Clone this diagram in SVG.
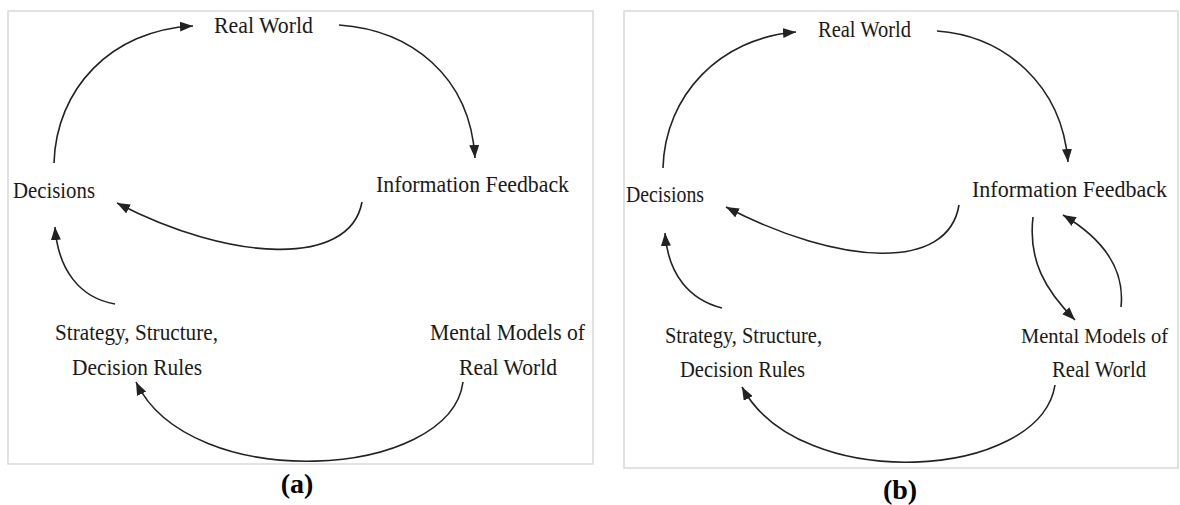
<svg xmlns="http://www.w3.org/2000/svg" width="1180" height="505" viewBox="0 0 1180 505">
<style>
.frame{fill:#fff;stroke:#d9d9d9;stroke-width:1.5}
.lbl{font-family:"Liberation Serif","Times New Roman",serif;font-size:23.5px;fill:#1a1a1a}
.sm{font-size:21px}
.cap{font-family:"Liberation Serif","Times New Roman",serif;font-size:28px;font-weight:bold;fill:#000;text-anchor:middle}
.c{fill:none;stroke:#222;stroke-width:1.6;marker-end:url(#ah)}
</style>
<defs>
<marker id="ah" viewBox="0 0 13 10" refX="13" refY="5" markerWidth="13" markerHeight="10" orient="auto" markerUnits="userSpaceOnUse">
<path d="M0,0 L13,5 L0,10 z" fill="#222"/>
</marker>
</defs>
<rect width="1180" height="505" fill="#fff"/>
<rect class="frame" x="8" y="11" width="585" height="453"/>
<rect class="frame" x="624" y="11" width="554" height="457"/>

<g id="a-real-world"><text class="lbl" x="214" y="33" textLength="99" lengthAdjust="spacingAndGlyphs">Real World</text></g>
<g id="a-decisions"><text class="lbl" x="13" y="198" textLength="82" lengthAdjust="spacingAndGlyphs">Decisions</text></g>
<g id="a-info-feedback"><text class="lbl" x="376" y="192" textLength="193" lengthAdjust="spacingAndGlyphs">Information Feedback</text></g>
<g id="a-strategy"><text class="lbl" x="55" y="340" textLength="163" lengthAdjust="spacingAndGlyphs">Strategy, Structure,</text><text class="lbl" x="72" y="375" textLength="130" lengthAdjust="spacingAndGlyphs">Decision Rules</text></g>
<g id="a-mental-models"><text class="lbl" x="430" y="340" textLength="155" lengthAdjust="spacingAndGlyphs">Mental Models of</text><text class="lbl" x="459" y="375" textLength="98" lengthAdjust="spacingAndGlyphs">Real World</text></g>
<g id="a-caption"><text class="cap" x="297" y="493">(a)</text></g>

<g id="b-real-world"><text class="lbl" x="818" y="37" textLength="93" lengthAdjust="spacingAndGlyphs">Real World</text></g>
<g id="b-decisions"><text class="lbl" x="626" y="202" textLength="78" lengthAdjust="spacingAndGlyphs">Decisions</text></g>
<g id="b-info-feedback"><text class="lbl" x="972" y="197" textLength="195" lengthAdjust="spacingAndGlyphs">Information Feedback</text></g>
<g id="b-strategy"><text class="lbl" x="665" y="343" textLength="157" lengthAdjust="spacingAndGlyphs">Strategy, Structure,</text><text class="lbl" x="680" y="377" textLength="125" lengthAdjust="spacingAndGlyphs">Decision Rules</text></g>
<g id="b-mental-models"><text class="lbl sm" x="1021" y="343" textLength="147" lengthAdjust="spacingAndGlyphs">Mental Models of</text><text class="lbl" x="1052" y="377" textLength="94" lengthAdjust="spacingAndGlyphs">Real World</text></g>
<g id="b-caption"><text class="cap" x="900" y="499">(b)</text></g>

<g id="connectors">
<path class="c" d="M54,163 C56,90 110,30 193,26"/>
<path class="c" d="M339,25 C410,30 470,75 475,158"/>
<path class="c" d="M362,202 C350,268 230,262 117,203"/>
<path class="c" d="M115,304 C80,298 58,270 55,227"/>
<path class="c" d="M463,382 C450,480 190,495 136,382"/>

<path class="c" d="M663,168 C665,95 720,38 796,32"/>
<path class="c" d="M937,31 C1005,36 1062,85 1068,162"/>
<path class="c" d="M959,205 C948,272 840,266 726,207"/>
<path class="c" d="M722,308 C690,300 668,275 665,233"/>
<path class="c" d="M1033,217 C1028,260 1045,290 1075,320"/>
<path class="c" d="M1121,307 C1125,270 1105,240 1063,215"/>
<path class="c" d="M1055,385 C1040,480 800,495 742,387"/>
</g>
</svg>
